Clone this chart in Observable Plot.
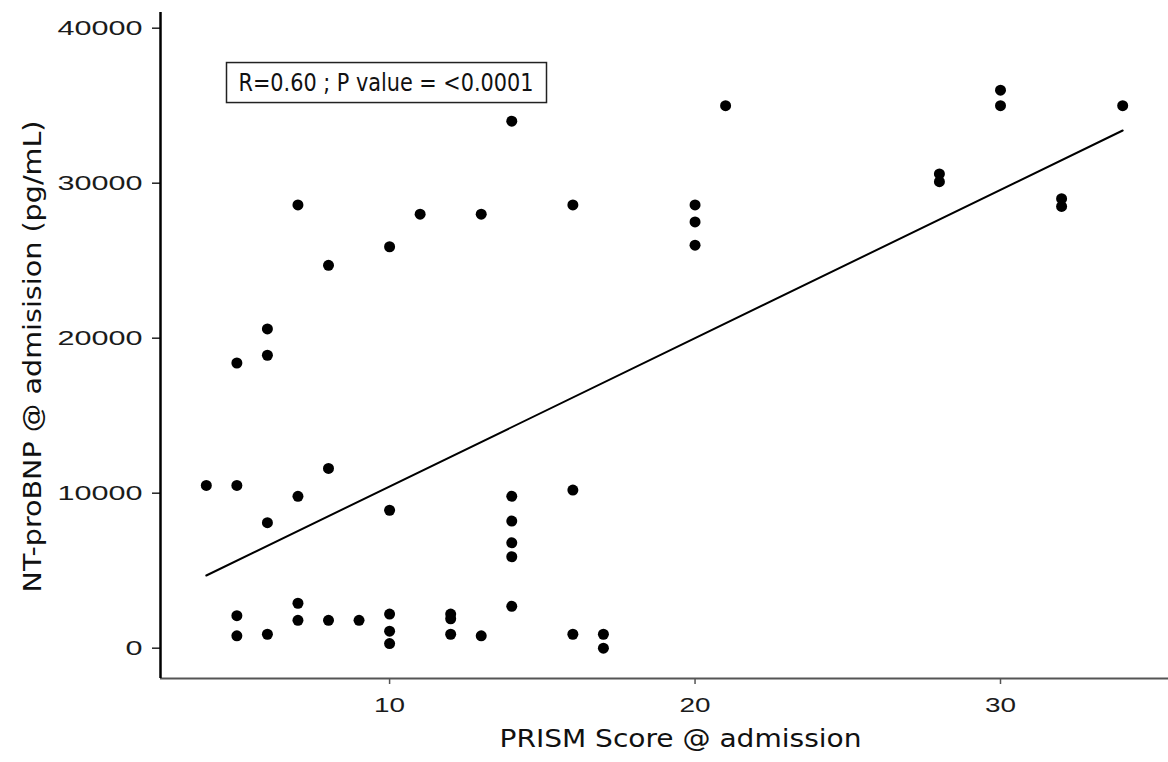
<!DOCTYPE html>
<html>
<head>
<meta charset="utf-8">
<script src="https://cdn.jsdelivr.net/npm/d3@7"></script>
<script src="https://cdn.jsdelivr.net/npm/@observablehq/plot@0.6"></script>
<style>
  html, body { margin: 0; padding: 0; background: #fff; }
  #chart { width: 1168px; height: 762px; }
</style>
</head>
<body>
<div id="chart"></div>
<script>
// PRISM score at admission vs NT-proBNP at admission (one entry per patient)
const prismScore = [
  4,
  5, 5, 5, 5,
  6, 6, 6, 6,
  7, 7, 7, 7,
  8, 8, 8,
  9,
  10, 10, 10, 10, 10,
  11,
  12, 12, 12,
  13, 13,
  14, 14, 14, 14, 14, 14,
  16, 16, 16,
  17, 17,
  20, 20, 20,
  21,
  28, 28,
  30, 30,
  32, 32,
  34
];
const ntProBNP = [
  10500,
  18400, 10500, 2100, 800,
  20600, 18900, 8100, 900,
  28600, 9800, 2900, 1800,
  24700, 11600, 1800,
  1800,
  25900, 8900, 2200, 1100, 300,
  28000,
  2200, 1900, 900,
  28000, 800,
  34000, 9800, 8200, 6800, 5900, 2700,
  28600, 10200, 900,
  900, 0,
  28600, 27500, 26000,
  35000,
  30600, 30100,
  36000, 35000,
  29000, 28500,
  35000
];

// fitted linear trend, end points
const fitScore = [4, 34];
const fitValue = [4690, 33400];

const xTicks = [10, 20, 30];
const yTicks = [0, 10000, 20000, 30000, 40000];
const xDomain = [2.5, 35.5];
const yDomain = [-1955, 41013];

const xTitle = "PRISM Score @ admission";
const yTitle = "NT-proBNP @ admisision (pg/mL)";
const statsNote = "R=0.60 ; P value = <0.0001";

const points = prismScore.map((s, i) => ({score: s, value: ntProBNP[i]}));
const fit = fitScore.map((s, i) => ({score: s, value: fitValue[i]}));

const handFont = "'Liberation Sans Narrow', 'DejaVu Sans Condensed', 'Liberation Sans', sans-serif";

const chart = Plot.plot({
  width: 1168,
  height: 762,
  marginLeft: 160,
  marginRight: 0,
  marginTop: 12,
  marginBottom: 84,
  style: {background: "#fff", fontFamily: "'Liberation Sans', Arial, sans-serif", fontSize: "20px", color: "#1b1b1b"},
  x: {domain: xDomain},
  y: {domain: yDomain},
  marks: [
    Plot.axisY(yTicks, {tickSize: 8, tickPadding: 10, tickFormat: d => String(d), label: null, stroke: "#222", strokeWidth: 1.5, fontSize: 20, fill: "#1b1b1b"}),
    Plot.axisX(xTicks, {tickSize: 6, tickPadding: 13, tickFormat: d => String(d), label: null, stroke: "#555", strokeWidth: 1.5, fontSize: 20, fill: "#1b1b1b"}),
    Plot.ruleY([yDomain[0]], {stroke: "#555", strokeWidth: 2}),
    Plot.ruleX([xDomain[0]], {stroke: "#000", strokeWidth: 2.5}),
    Plot.line(fit, {x: "score", y: "value", stroke: "#000", strokeWidth: 2}),
    Plot.dot(points, {x: "score", y: "value", r: 5.5, fill: "#000", stroke: "none"}),
    Plot.text([xTitle], {frameAnchor: "bottom", dx: 16, dy: 68, fontSize: 24, fontFamily: handFont, fill: "#111"}),
    Plot.text([yTitle], {frameAnchor: "left", textAnchor: "start", dx: -127, dy: 247, rotate: -90, fontSize: 24, fontFamily: handFont, fill: "#111"}),
    Plot.text([statsNote], {frameAnchor: "top-left", textAnchor: "start", dx: 78, dy: 61, fontSize: 24, fontFamily: handFont, fill: "#111"})
  ]
});

document.getElementById("chart").appendChild(chart);

// widen glyphs to the label widths used in the layout
const allTexts = Array.from(chart.querySelectorAll("text"));
function stretchText(t, width) {
  t.setAttribute("textLength", width);
  t.setAttribute("lengthAdjust", "spacingAndGlyphs");
}
chart.querySelectorAll('g[aria-label="y-axis tick label"] text').forEach(t => stretchText(t, 17 * t.textContent.length));
chart.querySelectorAll('g[aria-label="x-axis tick label"] text').forEach(t => stretchText(t, 15.5 * t.textContent.length));
const byContent = s => allTexts.find(t => t.textContent === s);
const titleWidths = [[xTitle, 362], [yTitle, 472], [statsNote, 295]];
titleWidths.forEach(([s, w]) => { const t = byContent(s); if (t) stretchText(t, w); });

// box around the statistics note
const note = byContent(statsNote);
if (note) {
  const bb = note.getBBox();
  const m = note.getCTM();
  d3.select(chart).append("rect")
    .attr("x", bb.x + m.e - 12)
    .attr("y", bb.y + m.f - 6)
    .attr("width", bb.width + 25)
    .attr("height", bb.height + 12)
    .attr("fill", "none")
    .attr("stroke", "#222")
    .attr("stroke-width", 1.5);
}
</script>
</body>
</html>
